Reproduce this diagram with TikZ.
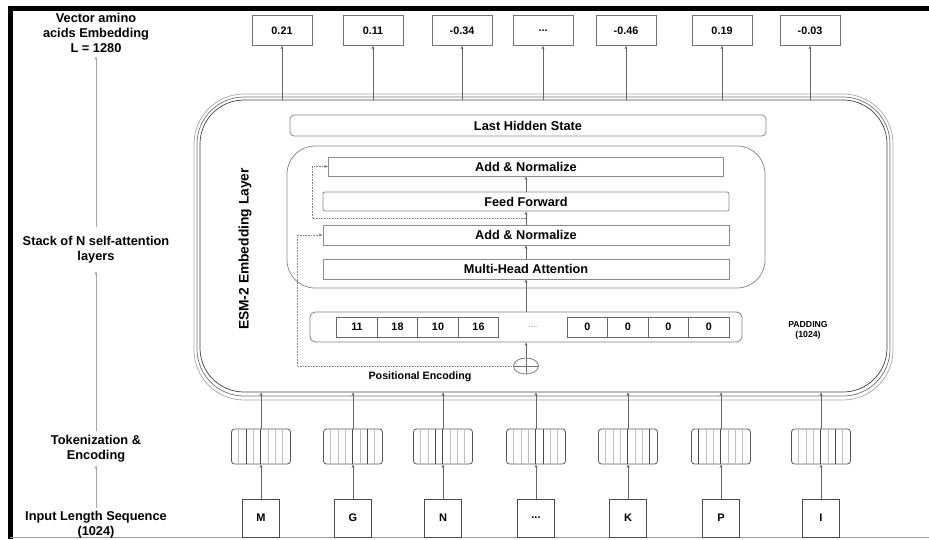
\documentclass[tikz,border=0pt]{standalone}
\usepackage{fontspec}
\setmainfont{Liberation Sans}
\usetikzlibrary{arrows.meta,calc,shapes.geometric}
\begin{document}
\begin{tikzpicture}[x=1pt,y=-1pt,
  lbl/.style={font=\fontsize{12.8}{15}\selectfont\bfseries, align=center},
  arr/.style={draw=black!60, line width=0.7pt, -{Stealth[length=3.5pt,width=3pt]}},
  larr/.style={draw=black!35, line width=0.7pt, -{Stealth[length=3.5pt,width=3pt]}},
  res/.style={draw=black!50, line width=0.6pt, densely dotted, -{Stealth[length=4pt,width=3pt]}},
  outbox/.style={draw=black!55, line width=0.8pt, minimum width=60pt, minimum height=30pt, font=\fontsize{10.8}{12}\selectfont\bfseries},
  letbox/.style={draw=black!70, line width=0.8pt, minimum width=37pt, minimum height=38pt, font=\fontsize{11}{12}\selectfont\bfseries},
  tokbox/.style={draw=black!65, line width=0.8pt, rounded corners=3pt, minimum width=59pt, minimum height=35pt, inner sep=0pt},
  layerbox/.style={draw=black!45, line width=0.8pt, minimum height=20pt, font=\fontsize{12.7}{14}\selectfont\bfseries},
  cellbox/.style={draw=black!60, line width=0.8pt, minimum width=40.5pt, minimum height=20pt, font=\fontsize{10.8}{12}\selectfont\bfseries},
]
\useasboundingbox (0,0) rectangle (929,539);

% frame
\draw[line width=5pt, black, miter limit=10] (929,8) -- (10.5,8) -- (10.5,539);
\draw[black!40, line width=0.8pt] (10,537) -- (929,537);

% left labels
\node[lbl] (vec) at (96,33.4) {Vector amino\\acids Embedding\\L = 1280};
\node[lbl] (stack) at (96,249.5) {Stack of N self-attention\\layers};
\node[lbl] (tok) at (96,448.5) {Tokenization \&\\Encoding};
\node[lbl] (inp) at (96,524.5) {Input Length Sequence\\(1024)};
\draw[larr, shorten <=6pt] (stack.north) -- (vec.south);
\draw[larr, shorten >=5pt] (tok.north) -- (stack.south);
\draw[larr] (inp.north) -- (tok.south);

% outer embedding layer (triple line)
\node[draw=black!35, line width=0.7pt, rounded corners=50pt, minimum width=699pt, minimum height=306pt] (embO) at (543.5,247) {};
\node[draw=black!55, line width=0.7pt, rounded corners=47pt, minimum width=693pt, minimum height=299pt] (embM) at (543.5,246.5) {};
\node[draw=black!75, line width=0.7pt, rounded corners=44pt, minimum width=687pt, minimum height=292pt] (embI) at (543.5,246) {};

\node[font=\fontsize{13.8}{15}\selectfont\bfseries, rotate=90] (esm) at (245,249) {ESM-2 Embedding Layer};

\node[draw=black!45, line width=0.8pt, rounded corners=4pt, minimum width=476pt, minimum height=21pt, font=\fontsize{12.8}{14}\selectfont\bfseries] (lhs) at (528,125.5) {Last Hidden State};

% transformer block
\node[draw=black!45, line width=0.8pt, rounded corners=28pt, minimum width=478pt, minimum height=142pt] (tblock) at (526,217) {};
\node[layerbox, minimum width=395pt, minimum height=19pt] (an1) at (526,166.5) {Add \& Normalize};
\node[layerbox, minimum width=406pt, minimum height=19pt, rounded corners=2pt] (ff) at (526,201.5) {Feed Forward};
\node[layerbox, minimum width=406pt] (an2) at (526,235) {Add \& Normalize};
\node[layerbox, minimum width=406pt] (mha) at (526,269) {Multi-Head Attention};

% sequence
\node[draw=black!50, line width=0.8pt, rounded corners=6pt, minimum width=432pt, minimum height=30pt] (seq) at (526,327) {};
\foreach \i/\x/\v in {1/357/11,2/397.5/18,3/438/10,4/478.5/16,5/587.25/0,6/627.75/0,7/668.25/0,8/708.75/0}
  \node[cellbox] (c\i) at (\x,327) {\v};
\node[font=\fontsize{8}{9}\selectfont, text=black!60] (cdots) at (533,327) {....};
\node[font=\fontsize{8.7}{10}\selectfont\bfseries, align=center] (pad) at (808,330) {PADDING\\(1024)};

% positional encoding
\node[draw=black!55, line width=0.7pt, ellipse, minimum width=25pt, minimum height=16pt, inner sep=0pt] (plus) at (526,366) {};
\draw[black!55, line width=0.7pt] (plus.north) -- (plus.south) (plus.west) -- (plus.east);
\node[font=\fontsize{10.7}{12}\selectfont\bfseries] (pe) at (420,377) {Positional Encoding};

% vertical flow
\draw[arr] (plus) -- (seq);
\draw[arr] (seq) -- (mha);
\draw[arr] (mha) -- (an2);
\draw[arr] (an2) -- (ff);
\draw[arr] (ff) -- (an1);

% residuals
\coordinate (r1) at ($(an2.north)!0.5!(ff.south)$);
\draw[res] (r1) -| ($(an1.west)+(-16,0)$) -- (an1.west);
\draw[res] (plus.west) -| ($(an2.west)+(-25,0)$) -- (an2.west);

% output vector
\foreach \i/\x/\v in {1/282/0.21, 2/373/0.11, 3/462/-0.34, 4/543/{...}, 5/626/-0.46, 6/722/0.19, 7/810/-0.03} {
  \node[outbox] (o\i) at (\x,30.5) {\v};
  \draw[arr] (o\i.south |- embI.north) -- (o\i.south);
}

% tokens
\foreach \i/\x/\l/\d in {1/261/M/2, 2/353/G/6, 3/443/N/3, 4/536/{...}/5, 5/628/K/7, 6/721/P/1, 7/821/I/6} {
  \node[tokbox] (tk\i) at (\x,446.5) {};
  \foreach \j in {1,...,7} {
    \pgfmathsetmacro{\shade}{ifthenelse(\j==4 || \j==\d, 70, 25)}
    \draw[black!\shade, line width=0.7pt] ($(tk\i.south west)+(\j*7.375,0)$) -- ($(tk\i.north west)+(\j*7.375,0)$);
  }
  \node[letbox] (lt\i) at (\x,518) {\l};
  \draw[arr] (lt\i) -- (tk\i);
  \draw[arr] (tk\i.north) -- (tk\i.north |- embI.south);
}
\end{tikzpicture}
\end{document}
